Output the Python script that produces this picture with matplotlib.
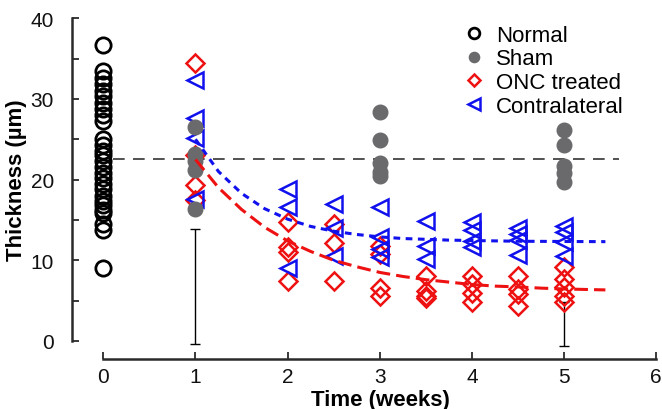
import matplotlib
matplotlib.use("Agg")
import matplotlib.pyplot as plt
from matplotlib.ticker import FixedLocator, FixedFormatter

plt.rcParams['font.family'] = ['Liberation Sans', 'DejaVu Sans']

# ---------------- data ----------------
normal_x = 0
normal_y = [36.7, 33.5, 32.6, 31.8, 31.0, 30.3, 29.5, 28.7, 28.0, 27.2,
            25.0, 24.3, 23.6, 23.0, 22.3, 21.5, 20.8, 20.2, 19.5, 18.8,
            18.0, 17.4, 16.8, 16.2, 15.8, 14.5, 13.8, 9.0]

sham_x = [1, 1, 1, 1, 1, 3, 3, 3, 3, 3, 5, 5, 5, 5, 5]
sham_y = [26.5, 23.2, 22.3, 21.2, 16.3,
          28.4, 24.9, 22.0, 21.0, 20.4,
          26.2, 24.3, 21.7, 20.8, 19.7]

onc_x = [1, 1, 1, 1,
         2, 2, 2, 2,
         2.5, 2.5, 2.5,
         3, 3, 3, 3,
         3.5, 3.5, 3.5, 3.5,
         4, 4, 4, 4,
         4.5, 4.5, 4.5, 4.5,
         5, 5, 5, 5, 5]
onc_y = [34.5, 23.0, 19.3, 17.5,
         14.8, 11.6, 11.0, 7.4,
         14.5, 12.2, 7.4,
         11.8, 10.8, 6.6, 5.6,
         8.0, 6.2, 5.6, 5.3,
         8.0, 7.0, 6.0, 4.8,
         8.0, 6.4, 5.8, 4.3,
         9.2, 7.7, 6.7, 5.6, 4.8]

contra_x = [1, 1, 1, 1,
            2, 2, 2,
            2.5, 2.5, 2.5,
            3, 3, 3, 3,
            3.5, 3.5, 3.5,
            4, 4, 4, 4,
            4.5, 4.5, 4.5, 4.5,
            5, 5, 5, 5]
contra_y = [32.3, 27.6, 25.2, 17.6,
            18.8, 16.6, 9.0,
            17.0, 14.0, 10.5,
            16.6, 12.9, 11.4, 10.4,
            14.9, 11.8, 10.2,
            14.7, 13.7, 12.4, 11.6,
            14.0, 13.2, 12.5, 10.6,
            14.3, 13.5, 12.3, 10.5]

# fitted curves
onc_fit_t = [1, 1.25, 1.5, 1.75, 2, 2.25, 2.5, 2.75, 3, 3.25, 3.5, 3.75,
             4, 4.25, 4.5, 4.75, 5, 5.25, 5.45]
onc_fit_y = [22.5, 19.0, 16.3, 14.1, 12.4, 11.1, 10.0, 9.2, 8.5, 8.0, 7.6,
             7.3, 7.0, 6.8, 6.7, 6.55, 6.45, 6.38, 6.33]
contra_fit_t = [1, 1.25, 1.5, 1.75, 2, 2.25, 2.5, 2.75, 3, 3.25, 3.5, 3.75,
                4, 4.5, 5, 5.45]
contra_fit_y = [25.0, 21.0, 18.3, 16.4, 15.1, 14.2, 13.6, 13.2, 12.9, 12.7,
                12.6, 12.5, 12.45, 12.36, 12.33, 12.31]

normal_mean = 22.6
normal_line_x = [0.1, 5.6]

err_x = [1, 5]
err_low = [-0.4, -0.6]
err_high = [13.9, 4.8]

xticks = [0, 1, 2, 3, 4, 5, 6]
yticks = [0, 5, 10, 15, 20, 25, 30, 35, 40]
ytick_labels = ['0', '', '10', '', '20', '', '30', '', '40']

# ---------------- figure ----------------
fig = plt.figure(figsize=(6.62, 4.10), dpi=100)
ax = fig.add_axes([0.1088, 0.122, 0.885, 0.841])
ax.set_xlim(-0.34, 6.02)
ax.set_ylim(-2.23, 40.5)

axis_col = '#2a2a2a'

# reference line
ax.plot(normal_line_x, [normal_mean, normal_mean], color='#333333', lw=1.2,
        dashes=(7, 5), zorder=1)

# error bars
for x, lo, hi in zip(err_x, err_low, err_high):
    ax.errorbar([x], [(lo + hi) / 2], yerr=[[(hi - lo) / 2], [(hi - lo) / 2]],
                fmt='none', ecolor='black', elinewidth=1.0, capsize=3.5,
                capthick=1.0, zorder=1)

ax.plot([normal_x] * len(normal_y), normal_y, linestyle='none', marker='o',
        markersize=11, markerfacecolor='none', markeredgecolor='black',
        markeredgewidth=2.0, label='Normal', zorder=3)
ax.plot(onc_x, onc_y, linestyle='none', marker='D', markersize=9,
        markerfacecolor='none', markeredgecolor='#ee1111', markeredgewidth=1.8,
        label='ONC treated', zorder=3)
ax.plot(contra_x, contra_y, linestyle='none', marker='<', markersize=12,
        markerfacecolor='none', markeredgecolor='#1111ee', markeredgewidth=1.8,
        label='Contralateral', zorder=3)
ax.plot(sham_x, sham_y, linestyle='none', marker='o', markersize=10.5,
        markerfacecolor='#6a6a6c', markeredgecolor='#6a6a6c',
        label='Sham', zorder=4)

ax.plot(contra_fit_t, contra_fit_y, color='#1111ee', lw=2.2, dashes=(2.2, 1.8),
        zorder=5)
ax.plot(onc_fit_t, onc_fit_y, color='#ee1111', lw=2.2, dashes=(4.5, 2),
        zorder=5)

# spines & ticks
for s in ['top', 'right']:
    ax.spines[s].set_visible(False)
ax.spines['left'].set_bounds(0, 40)
ax.spines['bottom'].set_bounds(0, 6)
for s in ['left', 'bottom']:
    ax.spines[s].set_linewidth(1.8)
    ax.spines[s].set_color(axis_col)

ax.xaxis.set_major_locator(FixedLocator(xticks))
ax.yaxis.set_major_locator(FixedLocator(yticks))
ax.yaxis.set_major_formatter(FixedFormatter(ytick_labels))
ax.tick_params(axis='both', direction='in', length=5, width=1.3,
               color=axis_col, labelsize=15, labelcolor='#111111')
ax.tick_params(axis='x', pad=6)
ax.tick_params(axis='y', pad=13)

ax.set_xlabel('Time (weeks)', fontsize=16, fontweight='bold')
ax.set_ylabel('Thickness (µm)', fontsize=16, fontweight='bold')
ax.xaxis.set_label_coords(0.526, -0.088)
ax.yaxis.set_label_coords(-0.077, 0.52)

handles, labels = ax.get_legend_handles_labels()
order = ['Normal', 'Sham', 'ONC treated', 'Contralateral']
hmap = dict(zip(labels, handles))
leg = ax.legend([hmap[k] for k in order], order, loc='upper left',
                bbox_to_anchor=(0.652, 0.995), frameon=False, fontsize=16,
                markerscale=0.7, handlelength=1.0, handletextpad=0.5,
                labelspacing=0.12, borderaxespad=0)

fig.savefig('out.png', dpi=100)
